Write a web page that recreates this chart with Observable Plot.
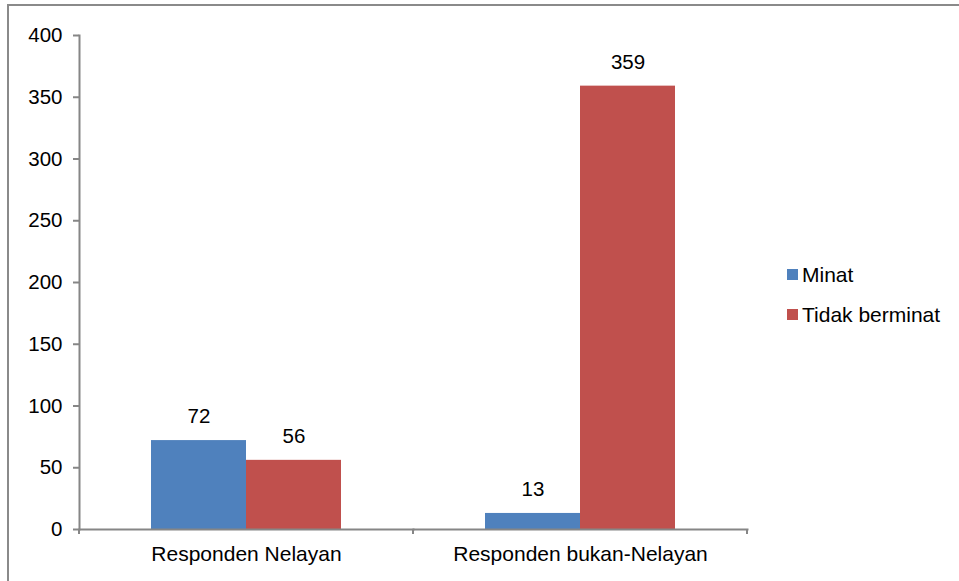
<!DOCTYPE html>
<html>
<head>
<meta charset="utf-8">
<script src="https://cdn.jsdelivr.net/npm/d3@7"></script>
<script src="https://cdn.jsdelivr.net/npm/@observablehq/plot@0.6"></script>
<style>
  html, body { margin: 0; padding: 0; background: #fff; overflow: hidden; }
  #wrap { position: relative; width: 959px; height: 581px; overflow: hidden; font-family: "Liberation Sans", Arial, sans-serif; }
  #border { position: absolute; left: 7px; top: 4px; width: 1200px; height: 1200px; border: 2px solid #8a8a8a; box-sizing: border-box; }
  #chart { position: absolute; left: 0; top: 0; }
  #legend { position: absolute; left: 787px; top: 262px; font-size: 21px; color: #000; }
  .item { display: flex; align-items: center; height: 25px; margin-bottom: 15px; }
  .sw { width: 11px; height: 11px; margin-right: 4px; }
</style>
</head>
<body>
<div id="wrap">
  <div id="border"></div>
  <div id="chart"></div>
  <div id="legend"></div>
</div>
<script>
const groups = ["Responden Nelayan", "Responden bukan-Nelayan"];
const series = ["Minat", "Tidak berminat"];
const minatValues = [72, 13];
const tidakValues = [56, 359];
const colors = ["#4F81BD", "#C0504D"];
const yTicks = [0, 50, 100, 150, 200, 250, 300, 350, 400];

const data = [];
groups.forEach((g, i) => {
  data.push({group: g, series: series[0], value: minatValues[i]});
  data.push({group: g, series: series[1], value: tidakValues[i]});
});

const axisColor = "#868686";
const plot = Plot.plot({
  width: 959,
  height: 581,
  marginLeft: 79,
  marginRight: 212,
  marginTop: 35,
  marginBottom: 52,
  style: {fontFamily: "'Liberation Sans', Arial, sans-serif", fontSize: "20.5px", color: "#000", background: "transparent"},
  fx: {domain: groups, padding: 0, label: null, round: false},
  x: {domain: series, paddingInner: 0, paddingOuter: 0.758, axis: null, round: false},
  y: {domain: [0, 400], label: null},
  color: {domain: series, range: colors},
  marks: [
    Plot.barY(data, {fx: "group", x: "series", y: "value", fill: "series", inset: 0}),
    Plot.text(data, {fx: "group", x: "series", y: "value", text: d => String(d.value), dy: -24, fill: "#000", fontSize: 20.5}),
    Plot.axisY({ticks: yTicks, tickSize: 6, tickPadding: 11, stroke: axisColor, strokeOpacity: 1, strokeWidth: 2, fill: "#000", label: null, fontSize: 20.5}),
    Plot.frame({anchor: "left", facetAnchor: "left", stroke: axisColor, strokeWidth: 2}),
    Plot.frame({anchor: "bottom", stroke: axisColor, strokeWidth: 2}),
    Plot.axisFx({anchor: "bottom", tickSize: 0, tickPadding: 17, label: null, fill: "#000", fontSize: 21})
  ]
});

// Category boundary ticks on the x axis, computed from the fx scale
const fx = plot.scale("fx");
const bounds = groups.map(g => fx.apply(g)).concat([fx.apply(groups[groups.length - 1]) + fx.bandwidth]);
const yS = plot.scale("y");
const y0 = yS.apply(0);
d3.select(plot).append("g")
  .attr("stroke", axisColor).attr("stroke-width", 2)
  .selectAll("line").data(bounds).join("line")
  .attr("x1", d => d).attr("x2", d => d)
  .attr("y1", y0).attr("y2", y0 + 5);

document.getElementById("chart").appendChild(plot);

// Legend
const legend = d3.select("#legend");
series.forEach((s, i) => {
  const it = legend.append("div").attr("class", "item");
  it.append("div").attr("class", "sw").style("background", colors[i]);
  it.append("span").text(s);
});
</script>
</body>
</html>
